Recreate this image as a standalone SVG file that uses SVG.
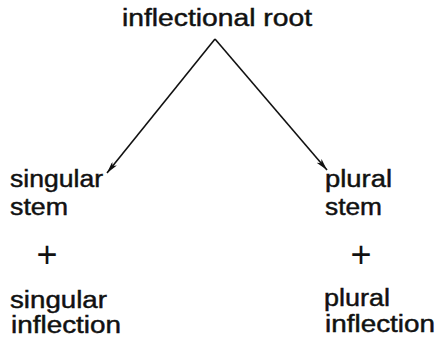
<svg xmlns="http://www.w3.org/2000/svg" width="441" height="341" viewBox="0 0 441 341">
<style>
text{font-family:"Liberation Sans",Arial,sans-serif;font-size:23.5px;fill:#111;stroke:#111;stroke-width:0.45}
.plus{font-size:36px;stroke-width:0}
.edge{stroke:#111;stroke-width:1.6;fill:none}
</style>
<defs>
<marker id="ah" viewBox="0 0 12 6" refX="12" refY="3" markerWidth="12" markerHeight="6" markerUnits="userSpaceOnUse" orient="auto">
<path d="M0,0 L12,3 L0,6 L3,3 Z" fill="#111"/>
</marker>
</defs>
<rect width="441" height="341" fill="#fff"/>
<g id="connectors">
<line class="edge" x1="215" y1="39" x2="107" y2="173" marker-end="url(#ah)"/>
<line class="edge" x1="215" y1="39" x2="327" y2="170" marker-end="url(#ah)"/>
</g>
<g id="root"><text x="122" y="26" textLength="190" lengthAdjust="spacingAndGlyphs">inflectional root</text></g>
<g id="singular">
<text x="10" y="187" textLength="93" lengthAdjust="spacingAndGlyphs">singular</text>
<text x="10" y="215" textLength="58" lengthAdjust="spacingAndGlyphs">stem</text>
<text class="plus" x="47" y="267" text-anchor="middle">+</text>
<text x="10" y="308" textLength="97" lengthAdjust="spacingAndGlyphs">singular</text>
<text x="11" y="333" textLength="110" lengthAdjust="spacingAndGlyphs">inflection</text>
</g>
<g id="plural">
<text x="325" y="187" textLength="67" lengthAdjust="spacingAndGlyphs">plural</text>
<text x="325" y="215" textLength="57" lengthAdjust="spacingAndGlyphs">stem</text>
<text class="plus" x="361" y="267" text-anchor="middle">+</text>
<text x="324" y="306" textLength="66" lengthAdjust="spacingAndGlyphs">plural</text>
<text x="325" y="332" textLength="110" lengthAdjust="spacingAndGlyphs">inflection</text>
</g>
</svg>
